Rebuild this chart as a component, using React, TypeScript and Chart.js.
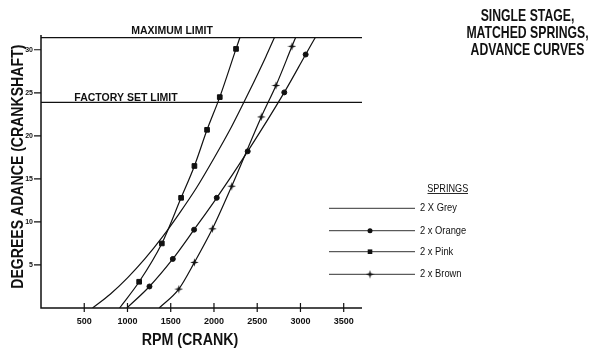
import React, { useEffect, useRef } from 'react';
import { Chart, registerables } from 'chart.js';

Chart.register(...registerables);

// ---- data ----
const X_TICKS = [500, 1000, 1500, 2000, 2500, 3000, 3500];
const Y_TICKS = [5, 10, 15, 20, 25, 30];
const X_MAX = 3700;
const Y_MAX = 31.6;
const MAX_LIMIT = 31.4;
const FACTORY_LIMIT = 23.9;

const SERIES_LABELS = ['2 X Grey', '2 x Orange', '2 x Pink', '2 x Brown'];

const GREY_RPM = [596, 800, 1000, 1200, 1400, 1600, 1800, 2000, 2200, 2400, 2600, 2698];
const GREY_DEG = [0, 1.6, 3.5, 5.7, 8.2, 11.0, 14.0, 17.4, 21.0, 25.0, 29.2, 31.4];

const ORANGE_RPM = [993, 1254, 1524, 1770, 2032, 2390, 2813, 3060, 3170];
const ORANGE_DEG = [0, 2.5, 5.7, 9.1, 12.8, 18.2, 25.05, 29.45, 31.4];

const PINK_RPM = [908, 1135, 1397, 1620, 1774, 1920, 2067, 2255, 2299];
const PINK_DEG = [0, 3.05, 7.5, 12.8, 16.5, 20.7, 24.5, 30.1, 31.4];

const BROWN_RPM = [1366, 1593, 1774, 1982, 2205, 2547, 2717, 2902, 2943];
const BROWN_DEG = [0, 2.2, 5.3, 9.2, 14.15, 22.2, 25.85, 30.4, 31.4];

const TITLE_LINES = ['SINGLE STAGE,', 'MATCHED SPRINGS,', 'ADVANCE CURVES'];
const LEGEND_TITLE = 'SPRINGS';
const X_TITLE = 'RPM (CRANK)';
const Y_TITLE = 'DEGREES ADANCE (CRANKSHAFT)';
const MAX_LABEL = 'MAXIMUM LIMIT';
const FACTORY_LABEL = 'FACTORY SET LIMIT';

const FONT = "'Liberation Sans', Arial, Helvetica, sans-serif";
const INK = '#111';

function makeStarImage(): HTMLCanvasElement {
  const c = document.createElement('canvas');
  c.width = 9;
  c.height = 9;
  const g = c.getContext('2d')!;
  g.fillStyle = INK;
  g.beginPath();
  const cx = 4.5, cy = 4.5, R = 4.3, r = 1.3;
  for (let k = 0; k < 8; k++) {
    const ang = (k * Math.PI) / 4 - Math.PI / 2;
    const rad = k % 2 === 0 ? R : r;
    const px = cx + rad * Math.cos(ang);
    const py = cy + rad * Math.sin(ang);
    if (k === 0) g.moveTo(px, py); else g.lineTo(px, py);
  }
  g.closePath();
  g.fill();
  return c;
}

function scaledText(
  ctx: CanvasRenderingContext2D, text: string, x: number, y: number,
  font: string, sx: number, align: CanvasTextAlign, baseline: CanvasTextBaseline, rot = 0
) {
  ctx.save();
  ctx.font = font;
  ctx.fillStyle = INK;
  ctx.textAlign = align;
  ctx.textBaseline = baseline;
  ctx.translate(x, y);
  if (rot) ctx.rotate(rot);
  ctx.scale(sx, 1);
  ctx.fillText(text, 0, 0);
  ctx.restore();
}

function drawMarker(ctx: CanvasRenderingContext2D, style: any, x: number, y: number) {
  ctx.save();
  ctx.fillStyle = INK;
  if (style === 'circle') {
    ctx.beginPath();
    ctx.arc(x, y, 2.5, 0, Math.PI * 2);
    ctx.fill();
  } else if (style === 'rect') {
    ctx.fillRect(x - 2.3, y - 2.3, 4.6, 4.6);
  } else if (style && typeof style === 'object') {
    ctx.drawImage(style, x - style.width / 2, y - style.height / 2);
  }
  ctx.restore();
}

const decorPlugin = {
  id: 'decor',
  afterDraw(chart: any) {
    const ctx: CanvasRenderingContext2D = chart.ctx;
    const { left, right, top, bottom } = chart.chartArea;
    const xs = chart.scales.x;
    const ys = chart.scales.y;
    ctx.save();
    ctx.strokeStyle = INK;
    // axes
    ctx.lineWidth = 1.5;
    ctx.beginPath();
    ctx.moveTo(left, top - 1);
    ctx.lineTo(left, bottom);
    ctx.lineTo(right + 1, bottom);
    ctx.stroke();
    // ticks
    ctx.lineWidth = 1.2;
    ctx.beginPath();
    X_TICKS.forEach((v) => {
      const px = xs.getPixelForValue(v);
      ctx.moveTo(px, bottom - 5);
      ctx.lineTo(px, bottom + 4);
    });
    Y_TICKS.forEach((v) => {
      const py = ys.getPixelForValue(v);
      ctx.moveTo(left - 7, py);
      ctx.lineTo(left, py);
    });
    ctx.stroke();
    // limit lines
    ctx.lineWidth = 1.3;
    const yMax = ys.getPixelForValue(MAX_LIMIT);
    const yFac = ys.getPixelForValue(FACTORY_LIMIT);
    ctx.beginPath();
    ctx.moveTo(left, yMax); ctx.lineTo(right + 1, yMax);
    ctx.moveTo(left, yFac); ctx.lineTo(right + 1, yFac);
    ctx.stroke();
    ctx.restore();

    scaledText(ctx, MAX_LABEL, 172, yMax - 3.5, `bold 10.5px ${FONT}`, 1, 'center', 'alphabetic');
    scaledText(ctx, FACTORY_LABEL, 126, yFac - 1.5, `bold 10.5px ${FONT}`, 1, 'center', 'alphabetic');

    // axis titles
    scaledText(ctx, X_TITLE, 190, 345, `bold 16px ${FONT}`, 0.89, 'center', 'alphabetic');
    scaledText(ctx, Y_TITLE, 23, 166.7, `bold 16px ${FONT}`, 0.88, 'center', 'alphabetic', -Math.PI / 2);

    // chart title
    TITLE_LINES.forEach((t, i) => {
      scaledText(ctx, t, 527.5, 20.5 + i * 17, `bold 17px ${FONT}`, 0.72, 'center', 'alphabetic');
    });

    // legend
    scaledText(ctx, LEGEND_TITLE, 447.7, 191.5, `11px ${FONT}`, 0.83, 'center', 'alphabetic');
    ctx.save();
    ctx.strokeStyle = INK;
    ctx.lineWidth = 0.9;
    ctx.beginPath();
    ctx.moveTo(427.5, 193.5); ctx.lineTo(468, 193.5);
    ctx.stroke();
    ctx.restore();
    const legendY = [208.3, 230.7, 251.7, 274.3];
    chart.data.datasets.forEach((ds: any, i: number) => {
      const y = legendY[i];
      ctx.save();
      ctx.strokeStyle = '#333';
      ctx.lineWidth = 1;
      ctx.beginPath();
      ctx.moveTo(329, y); ctx.lineTo(415, y);
      ctx.stroke();
      ctx.restore();
      if (ds.markerStyle) drawMarker(ctx, ds.markerStyle, 370, y);
      scaledText(ctx, ds.label, 420, y, `11px ${FONT}`, 0.85, 'left', 'middle');
    });
  },
};

function makeDataset(label: string, rpm: number[], deg: number[], style: any, radius: number) {
  return {
    label,
    markerStyle: style,
    data: rpm.map((x, i) => ({ x, y: deg[i] })),
    borderColor: INK,
    backgroundColor: INK,
    borderWidth: 1.2,
    pointStyle: style || 'circle',
    pointRadius: (c: any) => (style && c.dataIndex > 0 && c.dataIndex < rpm.length - 1 ? radius : 0),
    pointBorderWidth: 1,
    pointBorderColor: INK,
    pointBackgroundColor: INK,
    cubicInterpolationMode: 'monotone',
    fill: false,
  };
}

export default function App() {
  const ref = useRef<HTMLCanvasElement | null>(null);
  useEffect(() => {
    if (!ref.current) return;
    const star = makeStarImage();
    const tickFont = { family: FONT, weight: 'bold' as const };
    const chart = new Chart(ref.current, {
      type: 'line',
      data: {
        datasets: [
          makeDataset(SERIES_LABELS[0], GREY_RPM, GREY_DEG, null, 0),
          makeDataset(SERIES_LABELS[1], ORANGE_RPM, ORANGE_DEG, 'circle', 2.5),
          makeDataset(SERIES_LABELS[2], PINK_RPM, PINK_DEG, 'rect', 3.3),
          makeDataset(SERIES_LABELS[3], BROWN_RPM, BROWN_DEG, star, 4),
        ] as any,
      },
      options: {
        animation: false,
        responsive: true,
        maintainAspectRatio: false,
        events: [],
        layout: { padding: { left: 0, right: 239, top: 36, bottom: 0 } },
        plugins: { legend: { display: false }, tooltip: { enabled: false }, title: { display: false } },
        scales: {
          x: {
            type: 'linear',
            min: 0,
            max: X_MAX,
            afterBuildTicks: (s: any) => { s.ticks = X_TICKS.map((v) => ({ value: v })); },
            afterFit: (s: any) => { s.height = 52; },
            grid: { display: false, drawTicks: false },
            border: { display: false },
            ticks: {
              font: { ...tickFont, size: 9 }, color: INK, padding: 8, maxRotation: 0, autoSkip: false,
              callback: (v: any) => String(v),
            },
          },
          y: {
            type: 'linear',
            min: 0,
            max: Y_MAX,
            afterBuildTicks: (s: any) => { s.ticks = Y_TICKS.map((v) => ({ value: v })); },
            afterFit: (s: any) => { s.width = 41; },
            grid: { display: false, drawTicks: false },
            border: { display: false },
            ticks: {
              font: { ...tickFont, size: 7 }, color: INK, padding: 8, autoSkip: false,
              callback: (v: any) => String(v),
            },
          },
        },
      } as any,
      plugins: [decorPlugin],
    });
    return () => chart.destroy();
  }, []);
  return (
    <div style={{ position: 'fixed', left: 0, top: 0, width: 600, height: 360, background: '#fff' }}>
      <canvas ref={ref} />
    </div>
  );
}
